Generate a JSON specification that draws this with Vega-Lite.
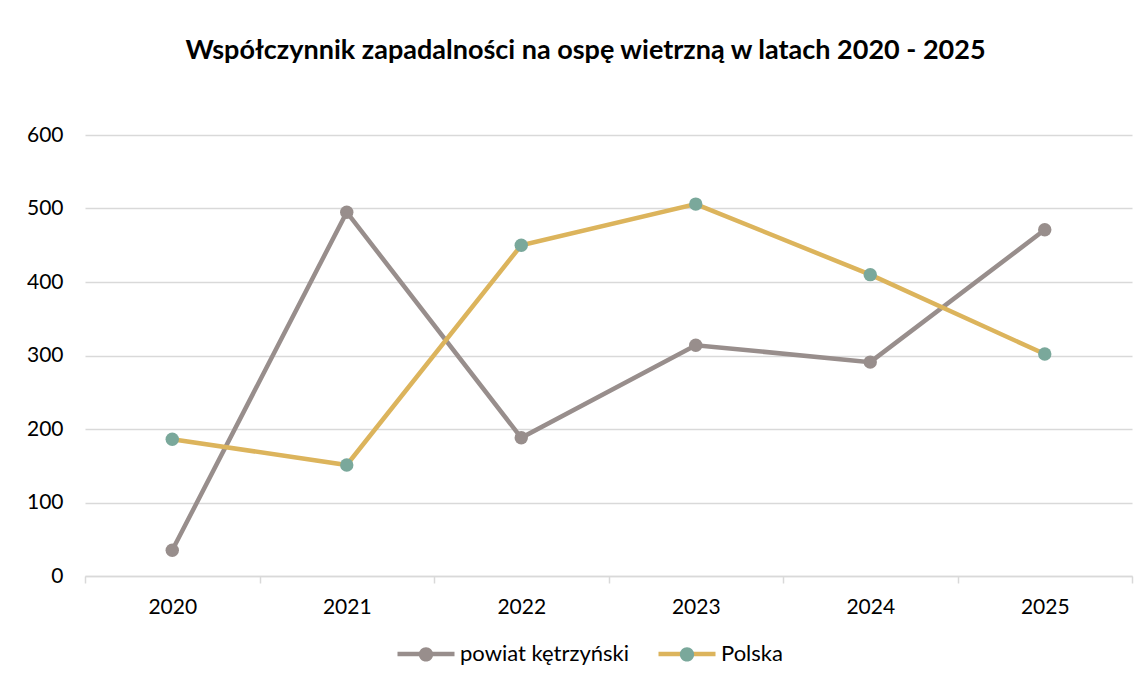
{
  "$schema": "https://vega.github.io/schema/vega-lite/v6.json",
  "autosize": {"type": "none"},
  "width": 1047,
  "height": 441,
  "padding": {"left": 85, "top": 135, "right": 15, "bottom": 110},
  "background": "white",
  "title": {
    "text": "Współczynnik zapadalności na ospę wietrzną w latach 2020 - 2025",
    "anchor": "middle",
    "frame": "group",
    "dx": -23,
    "offset": 59,
    "font": "Lato",
    "fontSize": 27,
    "fontWeight": "bold",
    "color": "#000000"
  },
  "config": {
    "font": "Lato",
    "view": {"stroke": null},
    "legend": {"padding": 0}
  },
  "data": {
    "values": [
      {"rok": "2020", "seria": "powiat kętrzyński", "wartosc": 35},
      {"rok": "2021", "seria": "powiat kętrzyński", "wartosc": 495},
      {"rok": "2022", "seria": "powiat kętrzyński", "wartosc": 188},
      {"rok": "2023", "seria": "powiat kętrzyński", "wartosc": 314},
      {"rok": "2024", "seria": "powiat kętrzyński", "wartosc": 291},
      {"rok": "2025", "seria": "powiat kętrzyński", "wartosc": 471},
      {"rok": "2020", "seria": "Polska", "wartosc": 186},
      {"rok": "2021", "seria": "Polska", "wartosc": 151},
      {"rok": "2022", "seria": "Polska", "wartosc": 450},
      {"rok": "2023", "seria": "Polska", "wartosc": 506},
      {"rok": "2024", "seria": "Polska", "wartosc": 410},
      {"rok": "2025", "seria": "Polska", "wartosc": 302}
    ]
  },
  "encoding": {
    "x": {
      "field": "rok",
      "type": "ordinal",
      "scale": {"type": "band", "paddingInner": 0, "paddingOuter": 0},
      "axis": {
        "title": null,
        "labelAngle": 0,
        "grid": false,
        "domain": true,
        "domainColor": "#d9d9d9",
        "domainWidth": 1.5,
        "ticks": true,
        "tickBand": "extent",
        "tickColor": "#d9d9d9",
        "tickWidth": 1.5,
        "tickSize": 7,
        "labelPadding": 13,
        "labelFont": "Lato",
        "labelFontSize": 21,
        "labelColor": "#000000"
      }
    },
    "y": {
      "field": "wartosc",
      "type": "quantitative",
      "scale": {"domain": [0, 600]},
      "axis": {
        "title": null,
        "values": [0, 100, 200, 300, 400, 500, 600],
        "domain": false,
        "ticks": false,
        "grid": true,
        "gridColor": "#d9d9d9",
        "gridWidth": 1.5,
        "labelPadding": 22,
        "labelFont": "Lato",
        "labelFontSize": 21,
        "labelColor": "#000000"
      }
    }
  },
  "layer": [
    {
      "mark": {"type": "line", "strokeWidth": 4.5, "strokeCap": "round"},
      "encoding": {
        "stroke": {
          "field": "seria",
          "type": "nominal",
          "scale": {"domain": ["powiat kętrzyński", "Polska"], "range": ["#988e8c", "#dcb45c"]},
          "legend": {
            "title": null,
            "orient": "none",
            "direction": "horizontal",
            "legendX": 310,
            "legendY": 488,
            "symbolType": "M-1,0H1",
            "symbolSize": 3249,
            "symbolStrokeWidth": 4.5,
            "symbolFillColor": "transparent",
            "labelFont": "Lato",
            "labelFontSize": 22,
            "labelLimit": 400,
            "labelColor": "#000000",
            "labelOffset": 3,
            "columnPadding": 19
          }
        }
      }
    },
    {
      "mark": {"type": "point", "filled": true, "opacity": 1, "size": 180},
      "encoding": {
        "fill": {
          "field": "seria",
          "type": "nominal",
          "sort": ["powiat kętrzyński", "Polska"],
          "scale": {"range": ["#988e8c", "#7aa89b"]},
          "legend": {
            "title": null,
            "orient": "none",
            "direction": "horizontal",
            "legendX": 310,
            "legendY": 488,
            "symbolType": "M-1,0H1M-0.25,0A0.25,0.25,0,1,1,0.25,0A0.25,0.25,0,1,1,-0.25,0Z",
            "symbolSize": 3249,
            "symbolStrokeWidth": 4.5,
            "symbolStrokeColor": "transparent",
            "symbolOpacity": 1,
            "labelFont": "Lato",
            "labelFontSize": 22,
            "labelLimit": 400,
            "labelOpacity": 0,
            "labelOffset": 3,
            "columnPadding": 19
          }
        }
      }
    }
  ]
}
